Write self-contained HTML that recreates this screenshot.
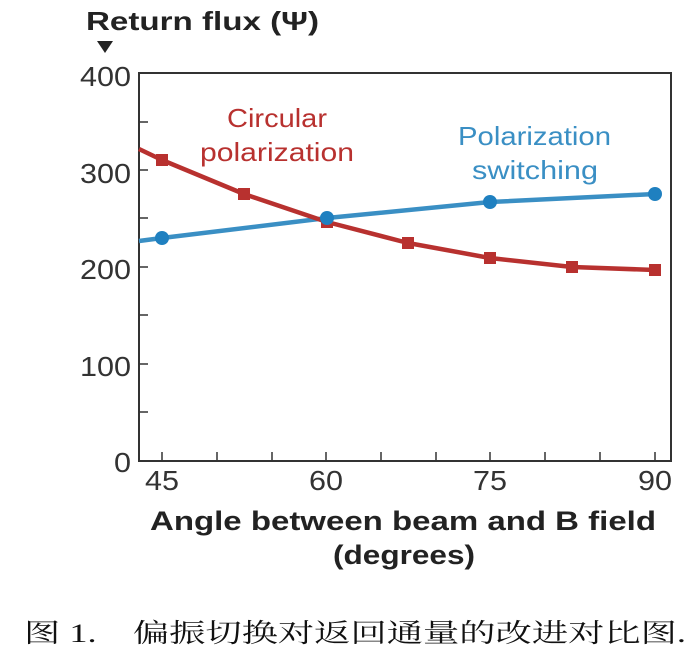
<!DOCTYPE html>
<html><head><meta charset="utf-8"><style>
html,body{margin:0;padding:0;background:#fff;}
</style></head><body>
<svg width="689" height="663" xmlns="http://www.w3.org/2000/svg" font-family="Liberation Sans, sans-serif">
<text x="86" y="30" font-size="26" font-weight="bold" fill="#222" textLength="233" lengthAdjust="spacingAndGlyphs">Return flux (Ψ)</text>
<polygon points="97,41 113,41 105,53" fill="#222"/>
<rect x="139" y="73" width="532" height="388" fill="none" stroke="#333" stroke-width="2"/>
<g stroke="#333" stroke-width="1.5">
<line x1="139" y1="122" x2="148" y2="122"/><line x1="139" y1="170" x2="148" y2="170"/>
<line x1="139" y1="218" x2="148" y2="218"/><line x1="139" y1="267" x2="148" y2="267"/>
<line x1="139" y1="315" x2="148" y2="315"/><line x1="139" y1="364" x2="148" y2="364"/>
<line x1="139" y1="412" x2="148" y2="412"/>
<line x1="162" y1="461" x2="162" y2="452"/><line x1="217" y1="461" x2="217" y2="452"/>
<line x1="272" y1="461" x2="272" y2="452"/><line x1="326" y1="461" x2="326" y2="452"/>
<line x1="381" y1="461" x2="381" y2="452"/><line x1="436" y1="461" x2="436" y2="452"/>
<line x1="490" y1="461" x2="490" y2="452"/><line x1="545" y1="461" x2="545" y2="452"/>
<line x1="600" y1="461" x2="600" y2="452"/><line x1="655" y1="461" x2="655" y2="452"/>
</g>
<g font-size="28" fill="#333">
<text x="80" y="86" textLength="51" lengthAdjust="spacingAndGlyphs">400</text>
<text x="80" y="183" textLength="51" lengthAdjust="spacingAndGlyphs">300</text>
<text x="80" y="279" textLength="51" lengthAdjust="spacingAndGlyphs">200</text>
<text x="80" y="376" textLength="51" lengthAdjust="spacingAndGlyphs">100</text>
<text x="114" y="472" textLength="17" lengthAdjust="spacingAndGlyphs">0</text>
</g>
<g font-size="28" fill="#333">
<text x="145" y="490" textLength="34" lengthAdjust="spacingAndGlyphs">45</text>
<text x="309" y="490" textLength="34" lengthAdjust="spacingAndGlyphs">60</text>
<text x="473" y="490" textLength="34" lengthAdjust="spacingAndGlyphs">75</text>
<text x="638" y="490" textLength="34" lengthAdjust="spacingAndGlyphs">90</text>
</g>
<polyline points="139,241 162,238 327,218 490,202 655,194" fill="none" stroke="#3a8fc4" stroke-width="4.5" stroke-linejoin="round"/>
<polyline points="139,149 162,160 244,194 327,222 408,243 490,258 572,267 655,270" fill="none" stroke="#b8312f" stroke-width="4.5" stroke-linejoin="round"/>
<g fill="#b8312f">
<rect x="156" y="154" width="12" height="12"/><rect x="238" y="188" width="12" height="12"/>
<rect x="321" y="216" width="12" height="12"/><rect x="402" y="237" width="12" height="12"/>
<rect x="484" y="252" width="12" height="12"/><rect x="566" y="261" width="12" height="12"/>
<rect x="649" y="264" width="12" height="12"/>
</g>
<g fill="#1f80c0">
<circle cx="162" cy="238" r="7"/><circle cx="327" cy="218" r="7"/><circle cx="490" cy="202" r="7"/><circle cx="655" cy="194" r="7"/>
</g>
<g font-size="26" fill="#b8312f">
<text x="227" y="127" textLength="100" lengthAdjust="spacingAndGlyphs">Circular</text>
<text x="200" y="161" textLength="154" lengthAdjust="spacingAndGlyphs">polarization</text>
</g>
<g font-size="26" fill="#3a8fc4">
<text x="458" y="145" textLength="153" lengthAdjust="spacingAndGlyphs">Polarization</text>
<text x="472" y="179" textLength="126" lengthAdjust="spacingAndGlyphs">switching</text>
</g>
<g font-size="27" font-weight="bold" fill="#222">
<text x="150" y="530" textLength="506" lengthAdjust="spacingAndGlyphs">Angle between beam and B field</text>
<text x="333" y="564" textLength="142" lengthAdjust="spacingAndGlyphs">(degrees)</text>
</g>
<text x="24" y="642" font-size="26" fill="#111" font-family="Liberation Serif, Noto Serif CJK SC, serif" textLength="662" lengthAdjust="spacingAndGlyphs">图 1.　偏振切换对返回通量的改进对比图.</text>
</svg>
</body></html>
